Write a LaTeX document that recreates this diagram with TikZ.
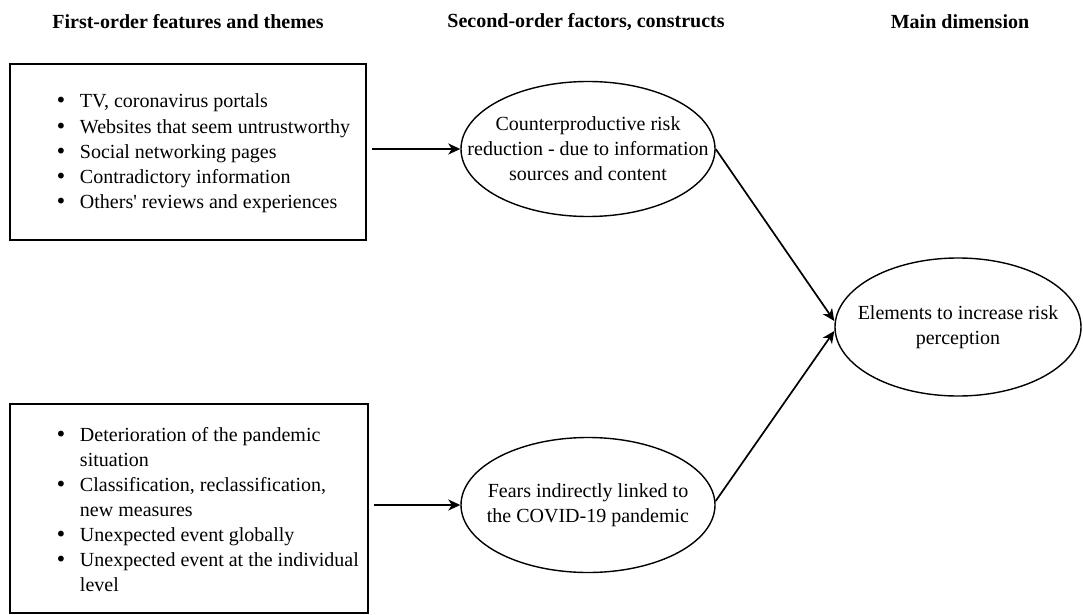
\documentclass[tikz,border=0pt]{standalone}
\usepackage{fontspec}
\setmainfont{Liberation Serif}
\newfontfamily\dotfont{DejaVu Sans}
\usetikzlibrary{shapes.geometric,arrows.meta}
\newcommand\listdot{{\dotfont •}}
\begin{document}
\begin{tikzpicture}[x=1pt,y=-1pt,
  heading/.style={font=\fontsize{20}{25}\selectfont\bfseries, inner sep=0pt},
  listframe/.style={draw, line width=1.7pt, inner sep=0pt},
  listtext/.style={font=\fontsize{20}{25}\selectfont, inner sep=0pt, anchor=west},
  oval/.style={draw, ellipse, line width=1.4pt, inner sep=0pt,
    minimum width=254pt, minimum height=135pt},
  ovaltext/.style={font=\fontsize{20}{25}\selectfont, align=center, inner sep=0pt},
  conn/.style={line width=1.7pt, -{Stealth[length=12pt,width=11pt,inset=3.5pt]}}]
  \useasboundingbox (0,0) rectangle (1083,615);

  % column headings
  \node[heading] (h1) at (188,22) {First-order features and themes};
  \node[heading] (h2) at (586,22) {Second-order factors, constructs};
  \node[heading] (h3) at (960,22) {Main dimension};

  % first-order feature lists
  \node[listframe, minimum width=356pt, minimum height=176pt] (box1) at (188,152) {};
  \node[listtext] (list1) at (55,153) {%
    \begin{tabular}{@{}l@{\hspace{13pt}}l@{}}
      \listdot & TV, coronavirus portals\\
      \listdot & Websites that seem untrustworthy\\
      \listdot & Social networking pages\\
      \listdot & Contradictory information\\
      \listdot & Others\textquotesingle{} reviews and experiences
    \end{tabular}};

  \node[listframe, minimum width=358pt, minimum height=209pt] (box2) at (189,508.5) {};
  \node[listtext] (list2) at (55,511) {%
    \begin{tabular}{@{}l@{\hspace{13pt}}l@{}}
      \listdot & Deterioration of the pandemic\\
               & situation\\
      \listdot & Classification, reclassification,\\
               & new measures\\
      \listdot & Unexpected event globally\\
      \listdot & Unexpected event at the individual\\
               & level
    \end{tabular}};

  % second-order constructs
  \node[oval] (c1) at (588,149) {};
  \node[ovaltext] (t1) at (c1) {Counterproductive risk\\reduction - due to information\\sources and content};
  \node[oval] (c2) at (588,505) {};
  \node[ovaltext] (t2) at (c2) {Fears indirectly linked to\\the COVID-19 pandemic};

  % main dimension
  \node[oval, minimum width=246pt, minimum height=138pt] (c3) at (958,327) {};
  \node[ovaltext] (t3) at (c3) {Elements to increase risk\\perception};

  % connectors
  \draw[conn] ([xshift=5pt]box1.east |- c1.west) -- (c1.west);
  \draw[conn] ([xshift=5pt]box2.east |- c2.west) -- (c2.west);
  \draw[conn] (c1.east) -- ([yshift=6pt]c3.west);
  \draw[conn] ([yshift=4pt]c2.east) -- ([yshift=-4pt]c3.west);
\end{tikzpicture}
\end{document}
